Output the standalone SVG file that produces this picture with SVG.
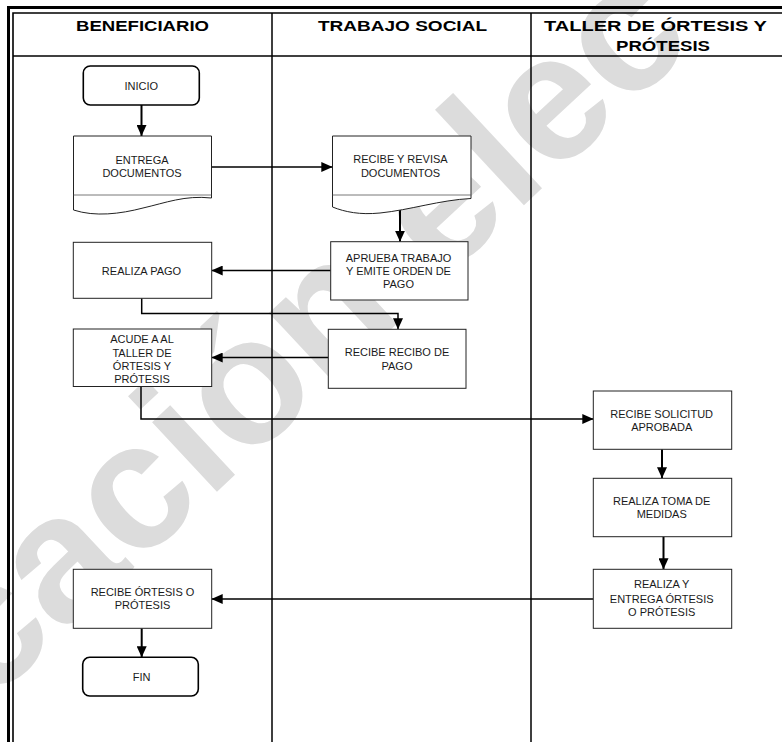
<svg xmlns="http://www.w3.org/2000/svg" width="782" height="742" viewBox="0 0 782 742">
<style>
.wm{font-family:"Liberation Sans",Arial,sans-serif;font-size:180px;font-weight:bold;fill:#dcdcdc}
.hd{font-family:"Liberation Sans",Arial,sans-serif;font-size:14px;font-weight:bold;fill:#000}
.t{font-family:"Liberation Sans",Arial,sans-serif;font-size:11px;fill:#1a1a1a;text-anchor:middle}
.box{fill:#fff;stroke:#222;stroke-width:1}
.term{fill:#fff;stroke:#000;stroke-width:1.6}
.frame{stroke:#000;fill:none}
.c{fill:none;stroke:#000;stroke-width:1.5}
.cv{fill:none;stroke:#000;stroke-width:2}
</style>
<defs>
<marker id="ah" markerUnits="userSpaceOnUse" markerWidth="11" markerHeight="10" refX="11" refY="5" orient="auto">
<path d="M0,0 L11,5 L0,10 Z" fill="#000"/>
</marker>
</defs>
<rect width="782" height="742" fill="#fff"/>
<g id="watermark">
<text class="wm" transform="translate(-12,705) rotate(-43)">cación elec</text>
</g>
<g id="frame">
<path class="frame" stroke-width="3" d="M8.5,742 V7.5 H782"/>
<path class="frame" stroke-width="1.6" d="M13,742 V13 H782"/>
<path class="frame" stroke-width="1.6" d="M13,56 H782"/>
<path class="frame" stroke-width="1.5" d="M272,13 V742 M531,13 V742"/>
</g>
<g id="headers">
<text class="hd" x="76" y="31" textLength="133" lengthAdjust="spacingAndGlyphs">BENEFICIARIO</text>
<text class="hd" x="318" y="31" textLength="169" lengthAdjust="spacingAndGlyphs">TRABAJO SOCIAL</text>
<text class="hd" x="544" y="31" textLength="223" lengthAdjust="spacingAndGlyphs">TALLER DE ÓRTESIS Y</text>
<text class="hd" x="616" y="50.5" textLength="94" lengthAdjust="spacingAndGlyphs">PRÓTESIS</text>
</g>
<g id="connectors">
<path class="cv" d="M141.5,105 V136" marker-end="url(#ah)"/>
<path class="c" d="M211.5,167 H332.3" marker-end="url(#ah)"/>
<path class="cv" d="M400,210 V241.7" marker-end="url(#ah)"/>
<path class="c" d="M330.7,270.5 H211.7" marker-end="url(#ah)"/>
<path class="c" d="M141.7,298.3 V313.5 H398 V329.3" marker-end="url(#ah)"/>
<path class="c" d="M328.3,357.5 H211.7" marker-end="url(#ah)"/>
<path class="c" d="M141,386.5 V419 H593.3" marker-end="url(#ah)"/>
<path class="cv" d="M662,449.3 V478.3" marker-end="url(#ah)"/>
<path class="cv" d="M663.5,536.7 V569.3" marker-end="url(#ah)"/>
<path class="c" d="M593.3,599 H211.7" marker-end="url(#ah)"/>
<path class="cv" d="M141.7,628.3 V657.3" marker-end="url(#ah)"/>
</g>
<g id="inicio">
<rect class="term" x="83.3" y="66" width="116" height="39" rx="7"/>
<text class="t" x="141.3" y="89.5">INICIO</text>
</g>
<g id="entrega">
<path class="box" d="M73.5,136 H211.5 V198 C185,195 165,203 143,208 C120,214 95,217 73.5,210 Z"/>
<path fill="none" stroke="#555" stroke-width="0.8" d="M73.5,195 H211.5"/>
<text class="t" x="142" y="164">ENTREGA</text>
<text class="t" x="142" y="176.7">DOCUMENTOS</text>
</g>
<g id="recibe-revisa">
<path class="box" d="M332.5,136 H471 V198.5 C440,200 410,210 380,213 C360,215 345,212 332.5,207 Z"/>
<path fill="none" stroke="#555" stroke-width="0.8" d="M332.5,195 H471"/>
<text class="t" x="400.5" y="163.3">RECIBE Y REVISA</text>
<text class="t" x="400.5" y="176.7">DOCUMENTOS</text>
</g>
<g id="aprueba">
<rect class="box" x="330.7" y="241.7" width="137.3" height="58.3"/>
<text class="t" x="398.5" y="261.7">APRUEBA TRABAJO</text>
<text class="t" x="398.5" y="275">Y EMITE ORDEN DE</text>
<text class="t" x="398.5" y="288.3">PAGO</text>
</g>
<g id="realiza-pago">
<rect class="box" x="73.3" y="242.3" width="138.4" height="56"/>
<text class="t" x="141.5" y="275">REALIZA PAGO</text>
</g>
<g id="recibe-recibo">
<rect class="box" x="328.3" y="329.3" width="137.7" height="59"/>
<text class="t" x="397" y="356">RECIBE RECIBO DE</text>
<text class="t" x="397" y="370">PAGO</text>
</g>
<g id="acude">
<rect class="box" x="73.3" y="329" width="138.4" height="57.5"/>
<text class="t" x="142" y="343.3">ACUDE A AL</text>
<text class="t" x="142" y="356.7">TALLER DE</text>
<text class="t" x="142" y="370">ÓRTESIS Y</text>
<text class="t" x="142" y="382.7">PRÓTESIS</text>
</g>
<g id="recibe-solicitud">
<rect class="box" x="593.3" y="391" width="138.4" height="58.3"/>
<text class="t" x="661.7" y="417.7">RECIBE SOLICITUD</text>
<text class="t" x="661.7" y="431">APROBADA</text>
</g>
<g id="toma-medidas">
<rect class="box" x="593.3" y="478.3" width="138.4" height="58.4"/>
<text class="t" x="661.7" y="505">REALIZA  TOMA DE</text>
<text class="t" x="661.7" y="518.3">MEDIDAS</text>
</g>
<g id="realiza-entrega">
<rect class="box" x="593.3" y="569.3" width="138.4" height="59"/>
<text class="t" x="661.7" y="588.3">REALIZA Y</text>
<text class="t" x="661.7" y="603.3">ENTREGA ÓRTESIS</text>
<text class="t" x="661.7" y="615.7">O PRÓTESIS</text>
</g>
<g id="recibe-ortesis">
<rect class="box" x="73.3" y="569.3" width="138.4" height="59"/>
<text class="t" x="142.5" y="596">RECIBE ÓRTESIS O</text>
<text class="t" x="142.5" y="609.3">PRÓTESIS</text>
</g>
<g id="fin">
<rect class="term" x="82.7" y="657.3" width="115.6" height="38.7" rx="7"/>
<text class="t" x="141.7" y="680.7">FIN</text>
</g>
</svg>
